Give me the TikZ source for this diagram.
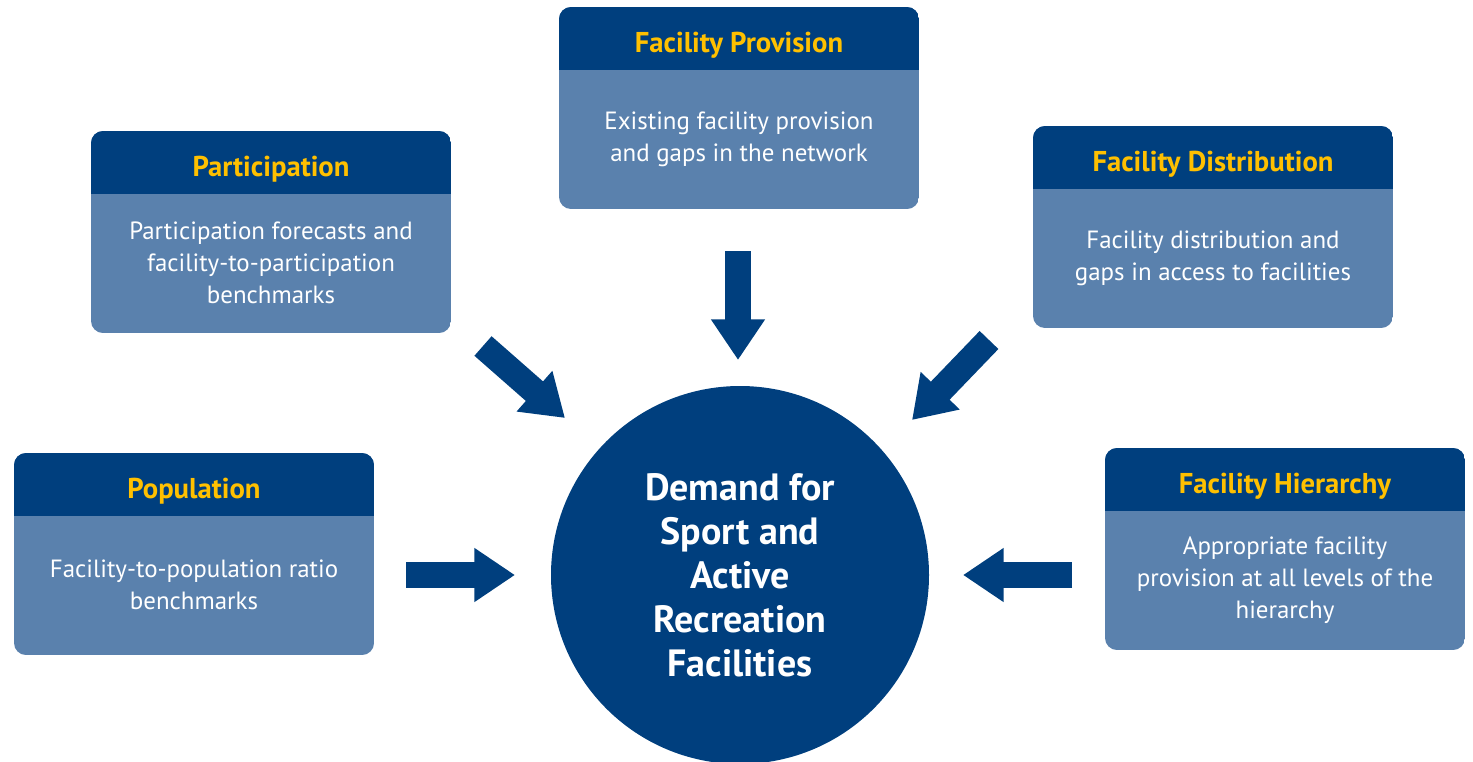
\documentclass[tikz,border=0pt]{standalone}
\usepackage{fontspec}
\setmainfont{PT Sans}
\usepackage{tikz}
\usetikzlibrary{arrows.meta}
\definecolor{dmNavy}{HTML}{003F7E}
\definecolor{dmBody}{HTML}{5A81AD}
\definecolor{dmGold}{HTML}{FFC000}
\tikzset{
  titletxt/.style={text=dmGold,font=\bfseries\fontsize{21.5}{24}\selectfont,inner sep=0pt},
  bodytxt/.style={text=white,align=center,font=\fontsize{18.7}{24}\selectfont,inner sep=0pt},
  bigarrow/.style={dmNavy,line width=19.5pt,-{Triangle[length=30.5pt,width=38.5pt]}},
}
% box: name, centre x, top y, title, body
\newcommand\facbox[5]{%
  \begin{scope}
    \clip[rounded corners=9] (#2-180,#3) rectangle (#2+180,#3+202);
    \fill[dmBody] (#2-180,#3) rectangle (#2+180,#3+202);
    \fill[dmNavy] (#2-180,#3) rectangle (#2+180,#3+63);
  \end{scope}
  \node[minimum width=270pt,minimum height=151.5pt,inner sep=0pt] (#1) at (#2,#3+101) {};
  \node[titletxt] (#1T) at (#2,#3+38) {#4};
  \node[bodytxt] (#1B) at (#2,#3+132) {#5};
}
\begin{document}
\begin{tikzpicture}[x=0.75pt,y=-0.75pt]
\useasboundingbox (0,0) rectangle (1473,761);
\facbox{pop}{194}{453}{Population}{Facility-to-population ratio\\benchmarks}
\facbox{part}{271}{131}{Participation}{Participation forecasts and\\facility-to-participation\\benchmarks}
\facbox{prov}{739}{7}{Facility Provision}{Existing facility provision\\and gaps in the network}
\facbox{dist}{1213}{126}{Facility Distribution}{Facility distribution and\\gaps in access to facilities}
\facbox{hier}{1285}{448}{Facility Hierarchy}{Appropriate facility\\provision at all levels of the\\hierarchy}
\node[circle,fill=dmNavy,minimum size=283.5pt,inner sep=0pt,text=white,align=center,
  font=\bfseries\fontsize{28.5}{33}\selectfont] (dem) at (740,575)
  {Demand for\\Sport and\\Active\\Recreation\\Facilities};
% arrow ends
\coordinate (popA) at (406,575); \coordinate (popZ) at (515,575);
\coordinate (hierA) at (1072,575); \coordinate (hierZ) at (963,575);
\coordinate (provA) at (738,251); \coordinate (provZ) at (738,360);
\coordinate (partA) at (483,346); \coordinate (partZ) at (565,418);
\coordinate (distA) at (989,340); \coordinate (distZ) at (912,420);
\foreach \s in {pop,hier,prov,part,dist}
  \draw[bigarrow] (\s A) -- (\s Z);
\end{tikzpicture}
\end{document}
